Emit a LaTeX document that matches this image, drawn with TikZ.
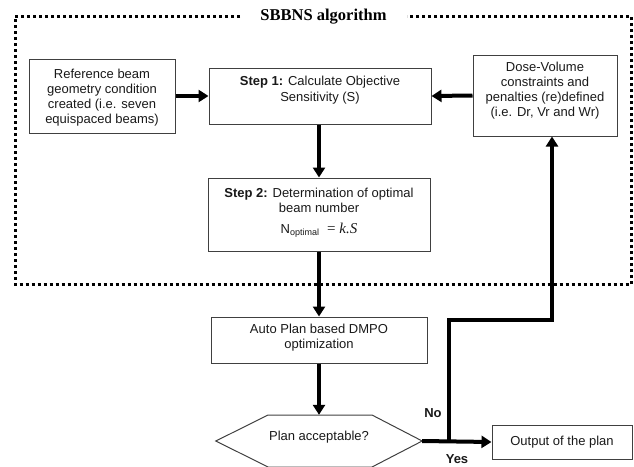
\documentclass[tikz,border=0pt]{standalone}
\usepackage{fontspec}
\setmainfont{Liberation Sans}
\newfontfamily\serifb{Liberation Serif}
\usetikzlibrary{arrows.meta}
\begin{document}
\begin{tikzpicture}[x=1pt,y=-1pt,
  box/.style={draw=black!75, line width=1pt, minimum width=#1, inner sep=0pt},
  txt/.style={align=center, text=black!90, font=\fontsize{13}{15}\selectfont, inner sep=0pt},
  flow/.style={line width=4pt, line join=miter, -{Triangle[length=10pt,width=12pt]}},
  frame/.style={line width=3pt, dash pattern=on 3pt off 3pt},
  lbl/.style={font=\fontsize{13}{15}\selectfont\bfseries, text=black!90, inner sep=0pt}]
\useasboundingbox (0,0) rectangle (634,466);
% dotted frame
\draw[frame] (240,16) -- (15,16) -- (15,284.5) -- (631,284.5) -- (631,16) -- (407,16);
\node[inner sep=0pt, font=\serifb\fontsize{16.5}{18}\selectfont\bfseries] (title) at (323.5,17) {SBBNS algorithm};
% boxes
\node[box=146pt, minimum height=74pt] (ref) at (102,96) {};
\node[txt] (reft) at (102,97.5) {Reference beam\\geometry condition\\created (i.e. seven\\equispaced beams)};
\node[box=222pt, minimum height=56pt] (s1) at (320,96) {};
\node[txt, font=\fontsize{13}{16}\selectfont] (s1t) at (320,90) {\textbf{Step 1:} Calculate Objective\\Sensitivity (S)};
\node[box=144pt, minimum height=81pt] (dv) at (545,95.5) {};
\node[txt] (dvt) at (545,91) {Dose-Volume\\constraints and\\penalties (re)defined\\(i.e. Dr, Vr and Wr)};
\node[box=222pt, minimum height=73pt] (s2) at (319,214.5) {};
\node[txt] (s2t) at (319,200.5) {\textbf{Step 2:} Determination of optimal\\beam number};
\node[txt] (s2f) at (319,230) {N\raisebox{-2.5pt}{\fontsize{9}{9}\selectfont optimal}\hspace{8pt}{\serifb\fontsize{15}{15}\selectfont = \itshape k.S}};
\node[box=216pt, minimum height=46pt] (auto) at (319,340) {};
\node[txt] (autot) at (319,337.5) {Auto Plan based DMPO\\optimization};
\node[inner sep=0pt, minimum width=206pt, minimum height=52pt] (hex) at (319,441) {};
\draw[draw=black!75, line width=1pt] (hex.west) -- (268,415) -- (372,415) -- (hex.east) -- (372,467) -- (268,467) -- cycle;
\node[txt] (hext) at (319,437) {Plan acceptable?};
\node[box=140pt, minimum height=34pt, txt] (out) at (562,442) {Output of the plan};
\coordinate (j) at (449,441);
\coordinate (c1) at (449,320);
\coordinate (c2) at (552,320);
% connectors
\draw[flow] (ref.east) -- (s1.west);
\draw[flow] (dv.west) -- (s1.east);
\draw[flow] (s1.south -| s2.north) -- (s2.north);
\draw[flow] (s2.south) -- (auto.north);
\draw[flow] (auto.south) -- (hex.north);
\draw[flow] (hex.east) -- (out.west);
\draw[flow] (j) -- (c1) -- (c2) -- (dv.south -| c2);
\node[lbl] (no) at (433,413) {No};
\node[lbl] (yes) at (457,459) {Yes};
\end{tikzpicture}
\end{document}
